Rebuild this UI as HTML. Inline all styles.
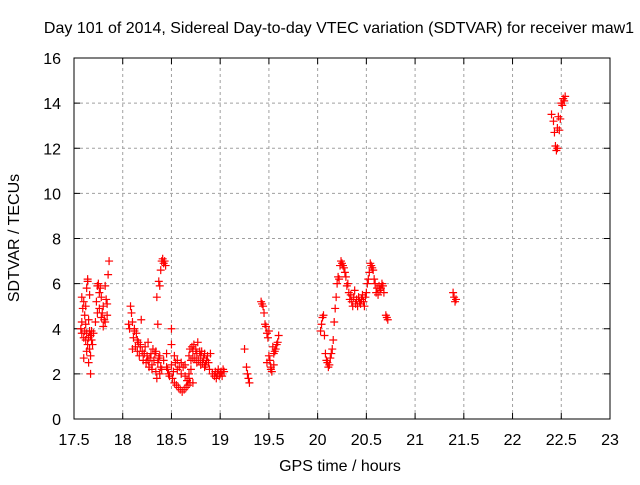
<!DOCTYPE html>
<html><head><meta charset="utf-8"><style>
body{margin:0;background:#fff;}
svg text{font-family:"Liberation Sans",sans-serif;fill:#000;}
</style></head><body>
<svg id="chart" width="640" height="480" xmlns="http://www.w3.org/2000/svg">
<rect width="640" height="480" fill="#fff"/>
<text x="339" y="33" font-size="16" text-anchor="middle">Day 101 of 2014, Sidereal Day-to-day VTEC variation (SDTVAR) for receiver maw1</text>
<g id="grid"></g>
<g id="axes"></g>
<g id="points"></g>
<text x="340" y="471" font-size="16" text-anchor="middle">GPS time / hours</text>
<text transform="translate(19,238) rotate(-90)" font-size="16" text-anchor="middle">SDTVAR / TECUs</text>
</svg>
<script>
const xTicks=[17.5,18,18.5,19,19.5,20,20.5,21,21.5,22,22.5,23];
const xTickLabels=["17.5","18","18.5","19","19.5","20","20.5","21","21.5","22","22.5","23"];
const yTicks=[0,2,4,6,8,10,12,14,16];
const yTickLabels=["0","2","4","6","8","10","12","14","16"];
const xs=[17.57,17.58,17.58,17.59,17.6,17.6,17.61,17.61,17.62,17.62,17.63,17.63,17.64,17.64,17.65,17.65,17.66,17.66,17.67,17.67,17.68,17.68,17.69,17.6,17.62,17.64,17.66,17.58,17.63,17.65,17.67,17.7,
17.72,17.73,17.74,17.75,17.76,17.77,17.78,17.79,17.8,17.81,17.82,17.83,17.84,17.85,17.86,17.74,17.78,17.8,17.82,17.76,17.84,
18.06,18.07,18.08,18.09,18.1,18.1,18.11,18.12,18.13,18.14,18.15,18.16,18.17,18.18,18.19,18.2,18.21,18.22,18.23,18.24,18.25,18.26,18.27,18.28,18.29,18.3,18.31,18.32,18.33,18.34,18.35,18.36,18.37,18.38,18.39,18.4,18.12,18.15,18.18,18.22,18.26,18.3,18.34,18.38,18.42,18.45,18.47,
18.35,18.37,18.38,18.39,18.4,18.41,18.42,18.43,18.44,18.36,18.45,18.5,
18.46,18.48,18.5,18.51,18.52,18.53,18.54,18.55,18.56,18.57,18.58,18.59,18.6,18.61,18.62,18.63,18.64,18.65,18.66,18.67,18.68,18.69,18.7,18.5,18.53,18.56,18.6,18.64,18.68,18.72,
18.68,18.69,18.7,18.71,18.72,18.73,18.74,18.75,18.76,18.77,18.78,18.79,18.8,18.81,18.82,18.83,18.84,18.85,18.86,18.87,18.88,18.89,18.9,18.92,18.94,18.95,18.96,18.97,18.98,18.99,19.0,19.01,19.02,19.03,19.04,18.72,18.76,18.8,18.84,
19.25,19.27,19.28,19.29,19.3,
19.42,19.43,19.44,19.45,19.46,19.47,19.48,19.49,19.5,19.5,19.51,19.52,19.53,19.54,19.55,19.56,19.57,19.58,19.59,19.6,19.52,19.55,19.48,
20.03,20.04,20.05,20.06,20.07,20.08,20.09,20.1,20.11,20.12,20.13,20.14,20.15,20.16,20.17,20.18,20.19,20.2,20.21,20.22,20.23,20.24,20.25,20.26,20.27,20.28,20.29,20.3,20.31,20.32,20.33,20.34,20.35,20.36,20.37,20.38,20.39,20.4,20.41,20.42,20.43,20.44,20.45,20.46,20.47,20.48,20.49,
20.5,20.51,20.52,20.53,20.54,20.55,20.56,20.57,20.58,20.59,20.6,20.61,20.62,20.63,20.64,20.65,20.66,20.67,20.68,20.7,20.71,20.72,
21.39,21.4,21.41,21.42,
22.4,22.42,22.43,22.44,22.45,22.46,22.46,22.47,22.48,22.49,22.5,22.51,22.52,22.53,22.54];
const ys=[4.0,3.8,5.4,4.9,3.6,5.2,3.9,4.6,3.5,5.0,3.8,5.8,3.3,6.1,3.6,4.4,3.1,3.9,2.8,3.7,3.5,3.9,3.3,2.7,4.2,6.2,5.5,4.3,3.0,2.5,2.0,3.8,
4.3,5.2,5.9,6.0,4.9,5.8,4.5,4.7,5.0,4.4,5.9,5.3,4.6,6.4,7.0,4.7,5.4,4.1,4.3,5.6,5.1,
4.2,4.0,5.0,4.7,4.3,3.1,3.6,4.0,3.2,3.8,3.0,3.4,2.8,3.3,4.4,3.0,2.6,2.9,3.2,2.5,2.8,3.4,2.3,2.7,2.9,2.2,3.1,2.6,2.9,2.1,1.8,2.5,2.7,2.0,2.3,2.2,3.9,3.5,3.2,2.9,2.6,2.4,3.0,2.8,2.6,2.3,2.0,
5.4,6.1,5.9,6.6,7.0,7.1,6.9,7.0,6.8,4.2,2.9,4.0,
2.2,1.9,2.4,1.8,2.1,1.6,2.5,1.5,2.2,1.4,2.3,1.3,2.0,1.2,2.3,1.3,1.9,1.4,1.7,1.5,2.0,1.6,2.2,3.3,2.8,2.6,2.5,2.4,1.8,1.6,
2.8,3.1,2.6,3.2,3.0,3.3,2.7,3.1,2.9,3.4,2.6,3.0,2.8,3.0,2.5,2.7,2.9,2.4,2.6,2.8,2.5,2.2,2.9,2.0,1.9,2.1,1.8,2.0,2.2,1.9,2.0,2.1,1.9,2.2,2.1,2.7,2.5,2.4,2.3,
3.1,2.3,2.0,1.8,1.6,
5.2,5.1,5.0,4.7,4.2,4.1,3.8,3.6,3.9,2.8,2.6,2.2,2.1,3.2,2.9,3.0,3.1,3.3,3.4,3.7,2.3,2.4,2.5,
3.9,4.2,4.5,4.6,3.7,2.9,2.6,2.5,2.3,2.4,2.7,2.9,3.1,3.5,4.3,4.9,5.4,6.0,6.3,6.2,6.8,7.0,6.9,6.8,6.7,6.5,6.3,5.9,6.0,5.6,5.3,5.5,5.2,5.0,5.4,5.7,5.1,5.3,5.0,5.4,5.2,5.1,5.3,5.5,5.2,5.0,5.4,
5.6,6.0,6.2,6.5,6.9,6.8,6.7,6.6,6.2,6.0,5.6,5.8,5.5,5.9,5.7,5.8,6.0,5.9,5.6,4.6,4.5,4.4,
5.6,5.4,5.2,5.3,
13.5,13.2,12.7,12.1,11.9,12.0,12.9,13.4,12.8,13.3,14.0,13.9,14.2,14.1,14.3];
const NS="http://www.w3.org/2000/svg";
const X0=74,X1=610,Y0=419,Y1=58;
function sx(v){return X0+(v-17.5)/5.5*(X1-X0);}
function sy(v){return Y0-v/16*(Y0-Y1);}
function mk(tag,attrs,parent){const e=document.createElementNS(NS,tag);for(const k in attrs)e.setAttribute(k,attrs[k]);parent.appendChild(e);return e;}
const grid=document.getElementById('grid'),axes=document.getElementById('axes'),pts=document.getElementById('points');
xTicks.forEach((t,i)=>{const x=sx(t);
 if(i>0&&i<xTicks.length-1){const g=mk('line',{x1:x,y1:Y0,x2:x,y2:Y1,stroke:'#a0a0a0','stroke-dasharray':'3,3'},grid);
 
 }
 mk('line',{x1:x,y1:Y0,x2:x,y2:Y0-6,stroke:'#000'},axes);
 mk('line',{x1:x,y1:Y1,x2:x,y2:Y1+6,stroke:'#000'},axes);
 const tx=mk('text',{x:x,y:445,'font-size':'16','text-anchor':'middle'},axes);tx.textContent=xTickLabels[i];
 
 });
yTicks.forEach((t,i)=>{const y=sy(t);
 if(i>0&&i<yTicks.length-1){const g=mk('line',{x1:X0,y1:y,x2:X1,y2:y,stroke:'#a0a0a0','stroke-dasharray':'3,3'},grid);
 
 }
 mk('line',{x1:X0,y1:y,x2:X0+6,y2:y,stroke:'#000'},axes);
 mk('line',{x1:X1,y1:y,x2:X1-6,y2:y,stroke:'#000'},axes);
 const tx=mk('text',{x:61,y:y+6,'font-size':'16','text-anchor':'end'},axes);tx.textContent=yTickLabels[i];
 
 });
const frame=mk('rect',{x:X0,y:Y1,width:X1-X0,height:Y0-Y1,fill:'none',stroke:'#000','stroke-width':'1'},axes);


xs.forEach((v,i)=>{const x=sx(v),y=sy(ys[i]);
 const p=mk('path',{d:`M${x-4},${y}H${x+4}M${x},${y-4}V${y+4}`,stroke:'#ff0000','stroke-width':'1.2',fill:'none'},pts);
 
 });
</script>
</body></html>
